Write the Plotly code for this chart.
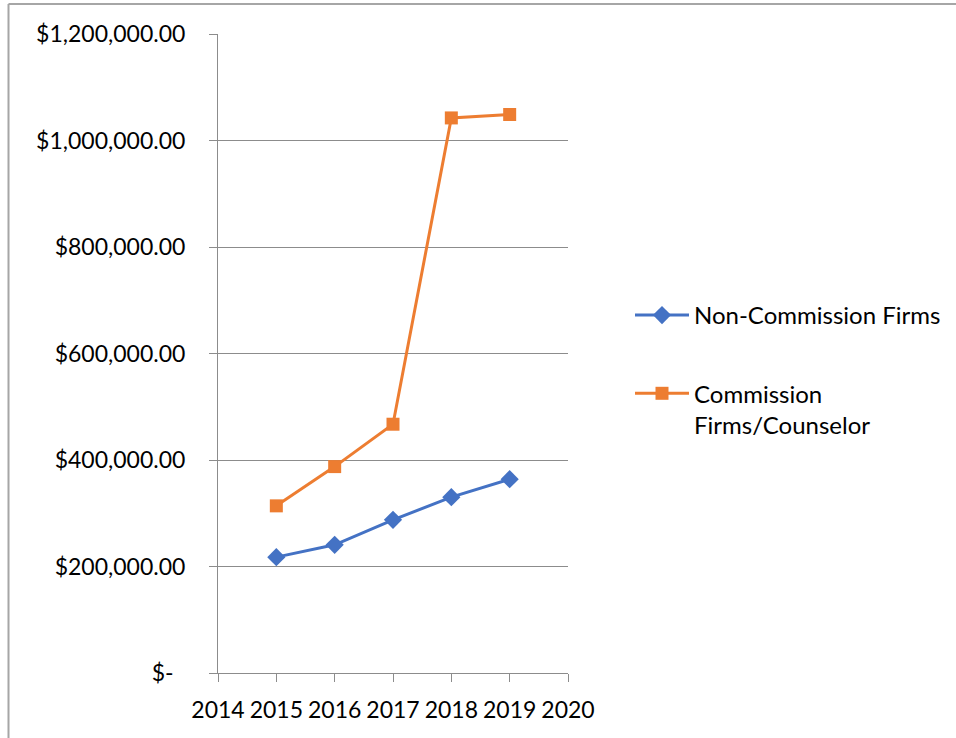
import plotly.graph_objects as go

years = [2015, 2016, 2017, 2018, 2019]
non_commission = [217600, 240700, 287600, 330200, 364000]
commission = [313900, 387600, 467200, 1042400, 1048800]

x_ticks = [2014, 2015, 2016, 2017, 2018, 2019, 2020]
y_ticks = [0, 200000, 400000, 600000, 800000, 1000000, 1200000]
y_labels = ["$-\u00a0\u00a0", "$200,000.00", "$400,000.00", "$600,000.00",
            "$800,000.00", "$1,000,000.00", "$1,200,000.00"]

FONT = "Lato"
GRID = "#8c8c8c"

fig = go.Figure()
fig.add_trace(go.Scatter(
    x=years, y=non_commission, name="Non-Commission Firms",
    mode="lines+markers", legendgroup="a",
    line=dict(color="#4472C4", width=3),
    marker=dict(symbol="diamond", size=14, color="#4472C4"),
))
fig.add_trace(go.Scatter(
    x=years, y=commission, name="Commission<br>Firms/Counselor",
    mode="lines+markers", legendgroup="b",
    line=dict(color="#ED7D31", width=3),
    marker=dict(symbol="square", size=13, color="#ED7D31"),
))

W, H = 956, 738
L, R, T, B = 218, 388, 34, 65
pw, ph = W - L - R, H - T - B

def px_x(p):
    return (p - L) / pw

def px_y(p):
    return 1 - (p - T) / ph

fig.update_layout(
    width=W, height=H,
    margin=dict(l=L, r=R, t=T, b=B, autoexpand=False),
    paper_bgcolor="white", plot_bgcolor="white",
    font=dict(family=FONT, size=23, color="#000000"),
    showlegend=True,
    legend=dict(
        x=px_x(630), y=px_y(293), xanchor="left", yanchor="top",
        font=dict(family=FONT, size=24, color="#000000"),
        tracegroupgap=44, valign="top", bgcolor="rgba(0,0,0,0)",
        itemwidth=54,
    ),
    xaxis=dict(
        range=[2014, 2020], tickvals=x_ticks, ticktext=[str(v) for v in x_ticks],
        showgrid=False, zeroline=False, showline=True, linecolor=GRID, linewidth=1,
        ticks="outside", ticklen=8, tickcolor=GRID, tickwidth=1,
        tickfont=dict(family=FONT, size=23, color="#000000"),
        ticklabelstandoff=8, fixedrange=True,
    ),
    yaxis=dict(
        range=[0, 1200000], tickvals=y_ticks, ticktext=y_labels,
        showgrid=True, gridcolor=GRID, gridwidth=1, zeroline=False,
        showline=True, linecolor=GRID, linewidth=1,
        ticks="outside", ticklen=8, tickcolor=GRID, tickwidth=1,
        tickfont=dict(family=FONT, size=23, color="#000000"),
        ticklabelstandoff=19, fixedrange=True,
    ),
)

# outer chart border (top and left visible in reference)
fig.add_shape(type="line", xref="paper", yref="paper",
              x0=px_x(8.5), x1=px_x(W + 5), y0=px_y(4), y1=px_y(4),
              line=dict(color="#a6a6a6", width=2))
fig.add_shape(type="line", xref="paper", yref="paper",
              x0=px_x(8.5), x1=px_x(8.5), y0=px_y(4), y1=px_y(H + 5),
              line=dict(color="#a6a6a6", width=2))

fig.write_html("out.html")
